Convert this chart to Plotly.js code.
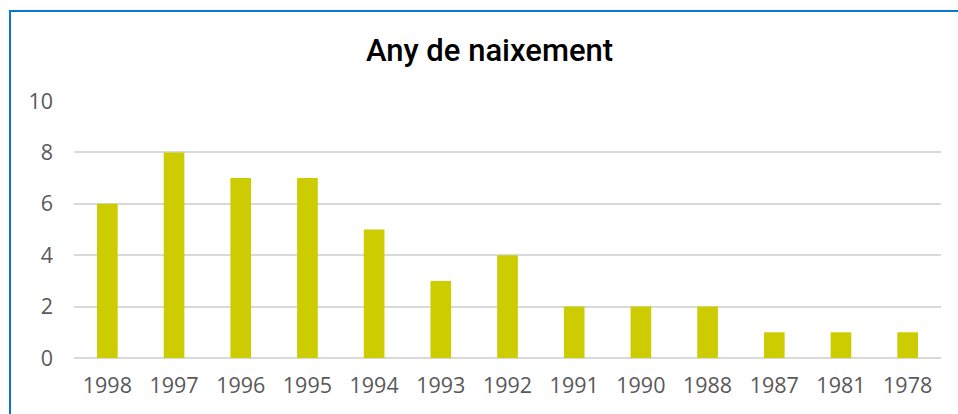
<!DOCTYPE html>
<html>
<head>
<meta charset="utf-8">
<script src="https://cdn.plot.ly/plotly-3.0.1.min.js"></script>
<style>
  html, body { margin: 0; padding: 0; background: #fff; }
  #chart { width: 958px; height: 414px; position: relative; }
  #frame { position: absolute; left: 9px; top: 10px; width: 960px; height: 420px;
           border-left: 2px solid #0A78D0; border-top: 2px solid #0A78D0; pointer-events: none; z-index: 10; }
</style>
</head>
<body>
<div id="chart"><div id="frame"></div></div>
<script>
const categories = ["1998","1997","1996","1995","1994","1993","1992","1991","1990","1988","1987","1981","1978"];
const counts = [6, 8, 7, 7, 5, 3, 4, 2, 2, 2, 1, 1, 1];
const yTicks = [0, 2, 4, 6, 8, 10];

const trace = {
  type: 'bar',
  x: categories,
  y: counts,
  marker: { color: '#CCCC00' },
  hoverinfo: 'x+y'
};

const layout = {
  width: 958,
  height: 414,
  margin: { l: 74, r: 17, t: 101, b: 56 },
  paper_bgcolor: '#ffffff',
  plot_bgcolor: '#ffffff',
  bargap: 0.69,
  showlegend: false,
  title: {
    text: 'Any de naixement',
    font: { family: 'Roboto, sans-serif', size: 31, color: '#000000', weight: 500 },
    x: 0.511, xanchor: 'center',
    y: 0.88, yanchor: 'middle'
  },
  xaxis: {
    type: 'category',
    tickfont: { family: 'Open Sans, sans-serif', size: 21.5, color: '#595959' },
    showgrid: false,
    showline: false,
    ticks: '',
    ticklabelstandoff: 12
  },
  yaxis: {
    range: [0, 10],
    tickvals: yTicks,
    tickfont: { family: 'Open Sans, sans-serif', size: 21.5, color: '#595959' },
    showgrid: true,
    gridcolor: '#D9D9D9',
    gridwidth: 2,
    zeroline: true,
    zerolinecolor: '#D9D9D9',
    zerolinewidth: 2,
    showline: false,
    ticks: '',
    ticklabelstandoff: 20
  }
};

Plotly.newPlot('chart', [trace], layout, { displayModeBar: false, staticPlot: true });
</script>
</body>
</html>
